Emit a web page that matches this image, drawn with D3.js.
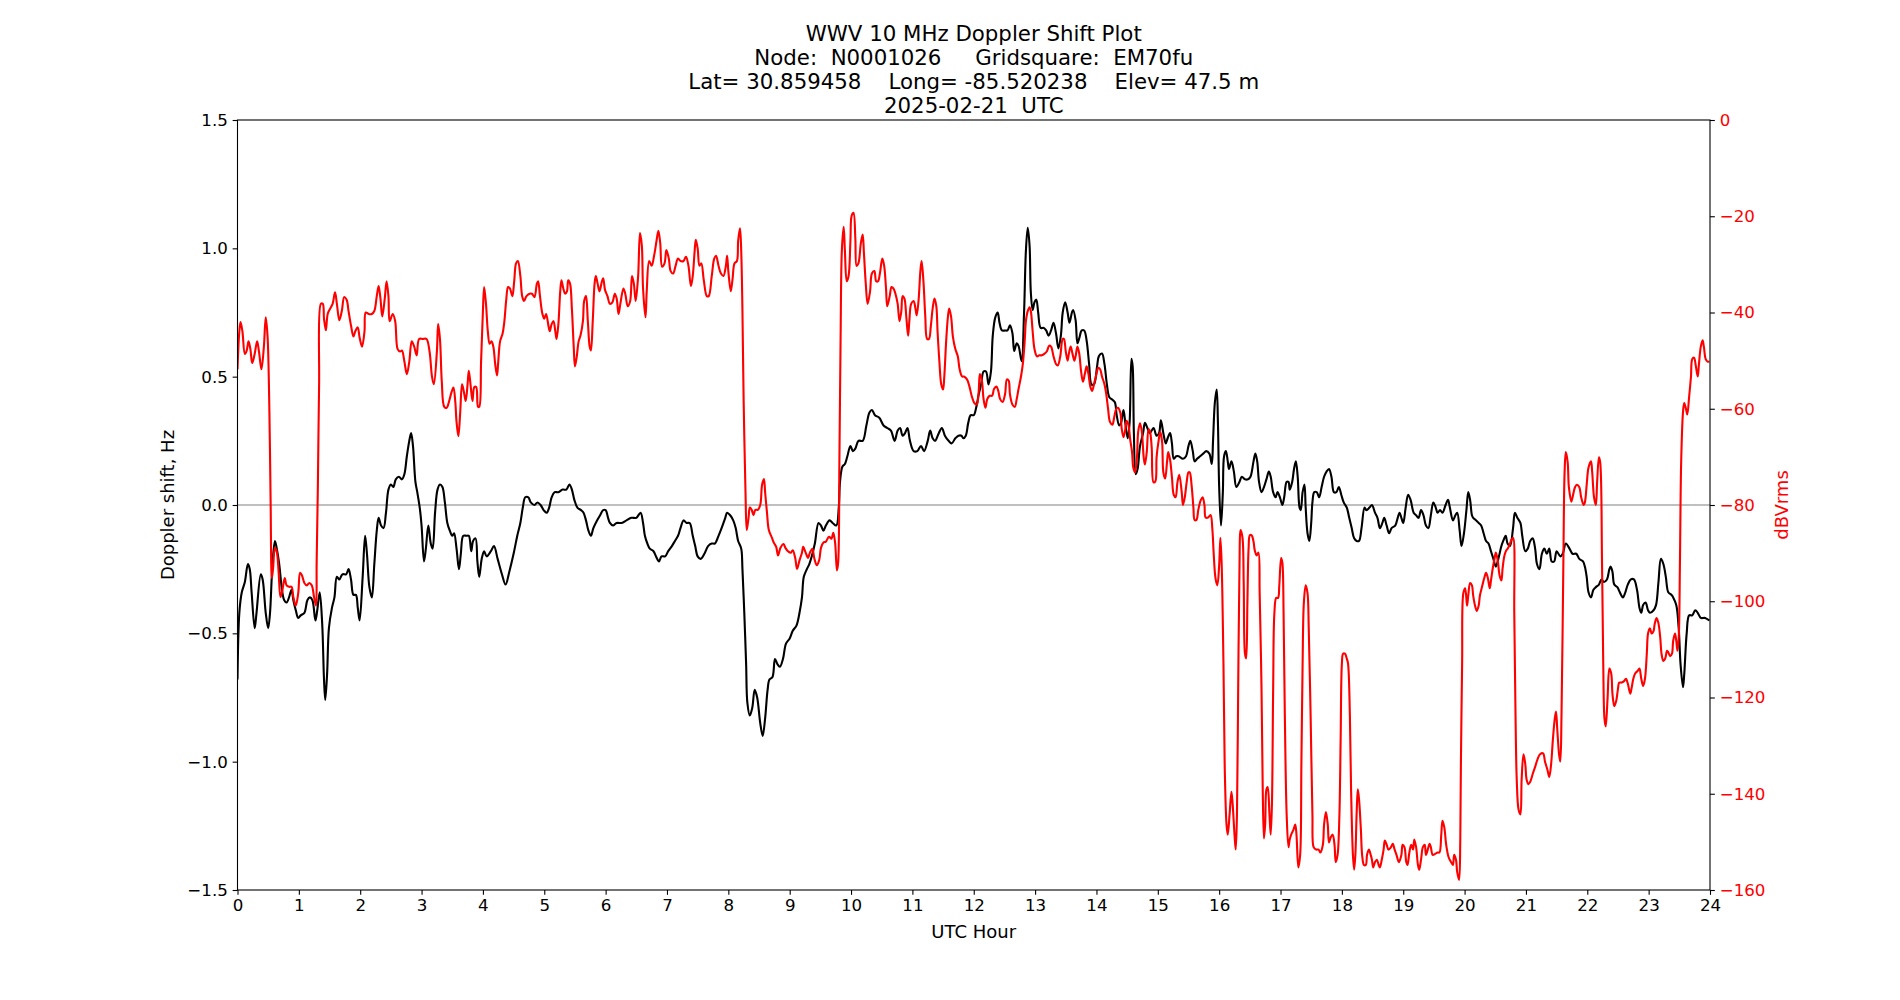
<!DOCTYPE html>
<meta charset="utf-8">
<style>
	body { margin: 0; background: #fff; }
	text { font-family: "DejaVu Sans", sans-serif; }
	.tick line { stroke: #000; stroke-width: 1.1; }
</style>
<body>
<script src="https://cdn.jsdelivr.net/npm/d3@7"></script>
<script>
// title lines
var titleLines = [
	"WWV 10 MHz Doppler Shift Plot",
	"Node:  N0001026     Gridsquare:  EM70fu",
	"Lat= 30.859458    Long= -85.520238    Elev= 47.5 m",
	"2025-02-21  UTC"
];
var hourTicks = d3.range(0, 25);
var dopplerTicks = [-1.5, -1.0, -0.5, 0.0, 0.5, 1.0, 1.5];
var powerTicks = [0, -20, -40, -60, -80, -100, -120, -140, -160];

// [UTC hour, Doppler shift Hz]
var doppler = [
	[0,-0.68],[0.03,-0.42],[0.07,-0.34],[0.12,-0.30],[0.17,-0.23],[0.2,-0.25],[0.23,-0.34],[0.28,-0.48],[0.31,-0.42],[0.38,-0.27],
	[0.41,-0.29],[0.46,-0.42],[0.5,-0.48],[0.53,-0.42],[0.57,-0.23],[0.61,-0.14],[0.64,-0.17],[0.68,-0.23],[0.72,-0.32],[0.76,-0.37],
	[0.8,-0.38],[0.84,-0.36],[0.88,-0.33],[0.91,-0.37],[0.95,-0.41],[0.99,-0.44],[1.03,-0.43],[1.09,-0.42],[1.14,-0.37],[1.18,-0.36],
	[1.22,-0.37],[1.27,-0.45],[1.30,-0.41],[1.34,-0.34],[1.38,-0.46],[1.41,-0.68],[1.43,-0.76],[1.46,-0.66],[1.49,-0.48],[1.54,-0.40],
	[1.58,-0.36],[1.62,-0.28],[1.66,-0.29],[1.71,-0.27],[1.77,-0.27],[1.81,-0.25],[1.85,-0.29],[1.89,-0.35],[1.93,-0.35],[1.96,-0.40],
	[1.99,-0.45],[2.04,-0.28],[2.08,-0.12],[2.11,-0.19],[2.15,-0.32],[2.19,-0.36],[2.23,-0.23],[2.27,-0.10],[2.30,-0.05],[2.34,-0.08],
	[2.38,-0.09],[2.42,-0.03],[2.46,0.06],[2.5,0.08],[2.54,0.07],[2.58,0.10],[2.63,0.11],[2.68,0.10],[2.72,0.12],[2.76,0.19],
	[2.80,0.25],[2.83,0.28],[2.86,0.23],[2.90,0.09],[2.93,0.05],[2.97,-0.01],[3.0,-0.08],[3.04,-0.22],[3.07,-0.17],[3.11,-0.08],
	[3.15,-0.15],[3.18,-0.17],[3.22,-0.03],[3.26,0.06],[3.30,0.08],[3.34,0.07],[3.38,0.01],[3.42,-0.07],[3.46,-0.10],[3.5,-0.12],
	[3.53,-0.11],[3.57,-0.17],[3.61,-0.25],[3.64,-0.19],[3.68,-0.12],[3.73,-0.12],[3.77,-0.12],[3.81,-0.18],[3.84,-0.14],[3.88,-0.13],
	[3.91,-0.22],[3.94,-0.28],[3.98,-0.21],[4.02,-0.18],[4.06,-0.20],[4.13,-0.18],[4.18,-0.16],[4.24,-0.21],[4.31,-0.27],[4.37,-0.31],
	[4.43,-0.26],[4.50,-0.19],[4.56,-0.12],[4.61,-0.07],[4.65,-0.01],[4.69,0.03],[4.74,0.03],[4.78,0.01],[4.84,0.0],[4.89,0.01],
	[4.94,0.0],[4.99,-0.02],[5.04,-0.03],[5.08,-0.01],[5.12,0.03],[5.17,0.05],[5.23,0.05],[5.30,0.06],[5.36,0.06],[5.41,0.08],
	[5.45,0.06],[5.49,0.02],[5.54,-0.01],[5.60,-0.02],[5.64,-0.03],[5.68,-0.06],[5.72,-0.10],[5.76,-0.12],[5.80,-0.09],[5.86,-0.06],
	[5.91,-0.04],[5.96,-0.02],[6.0,-0.02],[6.04,-0.05],[6.07,-0.07],[6.12,-0.08],[6.18,-0.07],[6.26,-0.07],[6.34,-0.06],[6.42,-0.05],
	[6.50,-0.05],[6.57,-0.03],[6.61,-0.07],[6.64,-0.12],[6.68,-0.15],[6.72,-0.17],[6.78,-0.18],[6.82,-0.20],[6.87,-0.22],[6.91,-0.20],
	[6.97,-0.20],[7.02,-0.18],[7.08,-0.16],[7.13,-0.14],[7.18,-0.12],[7.22,-0.09],[7.27,-0.06],[7.32,-0.07],[7.37,-0.07],[7.42,-0.12],
	[7.46,-0.16],[7.50,-0.20],[7.55,-0.21],[7.61,-0.19],[7.67,-0.16],[7.73,-0.15],[7.78,-0.15],[7.84,-0.12],[7.89,-0.09],[7.95,-0.05],
	[7.98,-0.03],[8.03,-0.04],[8.08,-0.06],[8.12,-0.09],[8.16,-0.14],[8.21,-0.17],[8.23,-0.25],[8.26,-0.42],[8.29,-0.62],[8.31,-0.77],
	[8.35,-0.82],[8.39,-0.79],[8.43,-0.72],[8.47,-0.75],[8.52,-0.85],[8.56,-0.90],[8.60,-0.83],[8.64,-0.72],[8.67,-0.68],[8.72,-0.67],
	[8.76,-0.60],[8.80,-0.62],[8.84,-0.63],[8.89,-0.60],[8.94,-0.54],[9.0,-0.52],[9.05,-0.49],[9.11,-0.47],[9.16,-0.42],[9.2,-0.36],
	[9.23,-0.28],[9.28,-0.25],[9.32,-0.23],[9.36,-0.20],[9.41,-0.15],[9.47,-0.07],[9.51,-0.08],[9.55,-0.10],[9.59,-0.08],[9.65,-0.06],
	[9.70,-0.07],[9.76,-0.08],[9.80,-0.01],[9.82,0.09],[9.86,0.15],[9.90,0.16],[9.94,0.19],[9.99,0.23],[10.03,0.21],[10.07,0.22],
	[10.12,0.25],[10.19,0.25],[10.25,0.31],[10.30,0.36],[10.34,0.37],[10.39,0.35],[10.46,0.34],[10.53,0.31],[10.59,0.30],[10.65,0.29],
	[10.71,0.25],[10.76,0.29],[10.80,0.30],[10.84,0.27],[10.88,0.28],[10.92,0.30],[10.96,0.25],[11.02,0.21],[11.08,0.21],[11.14,0.23],
	[11.19,0.21],[11.25,0.25],[11.29,0.29],[11.33,0.26],[11.37,0.25],[11.43,0.28],[11.48,0.30],[11.53,0.27],[11.59,0.25],[11.64,0.24],
	[11.70,0.26],[11.75,0.27],[11.80,0.27],[11.83,0.26],[11.87,0.27],[11.91,0.32],[11.95,0.35],[12.0,0.35],[12.04,0.38],[12.08,0.43],
	[12.12,0.47],[12.16,0.52],[12.2,0.52],[12.24,0.47],[12.28,0.52],[12.31,0.66],[12.35,0.73],[12.39,0.75],[12.42,0.71],[12.46,0.68],
	[12.51,0.68],[12.55,0.68],[12.59,0.70],[12.63,0.67],[12.66,0.60],[12.70,0.63],[12.73,0.62],[12.78,0.56],[12.82,0.75],[12.85,0.99],
	[12.88,1.08],[12.91,1.01],[12.93,0.83],[12.96,0.76],[12.99,0.79],[13.02,0.80],[13.05,0.75],[13.09,0.69],[13.14,0.69],[13.18,0.68],
	[13.22,0.66],[13.26,0.68],[13.30,0.71],[13.34,0.67],[13.38,0.61],[13.42,0.66],[13.45,0.75],[13.49,0.79],[13.53,0.75],[13.56,0.71],
	[13.60,0.75],[13.62,0.76],[13.66,0.72],[13.69,0.63],[13.72,0.65],[13.76,0.68],[13.80,0.68],[13.84,0.64],[13.88,0.55],[13.92,0.47],
	[13.96,0.47],[14.01,0.54],[14.04,0.58],[14.09,0.59],[14.13,0.55],[14.17,0.47],[14.21,0.42],[14.26,0.41],[14.30,0.40],[14.33,0.35],
	[14.37,0.31],[14.40,0.32],[14.44,0.37],[14.47,0.32],[14.51,0.26],[14.54,0.32],[14.57,0.57],[14.59,0.54],[14.61,0.28],[14.64,0.12],
	[14.67,0.14],[14.71,0.23],[14.76,0.28],[14.79,0.32],[14.83,0.30],[14.87,0.28],[14.93,0.30],[14.98,0.27],[15.02,0.28],[15.05,0.33],
	[15.09,0.28],[15.13,0.24],[15.16,0.26],[15.20,0.28],[15.23,0.24],[15.26,0.18],[15.30,0.19],[15.34,0.19],[15.41,0.18],[15.46,0.19],
	[15.50,0.23],[15.53,0.25],[15.57,0.21],[15.60,0.17],[15.64,0.18],[15.69,0.19],[15.74,0.20],[15.79,0.21],[15.84,0.20],[15.88,0.16],
	[15.90,0.25],[15.93,0.40],[15.96,0.45],[15.98,0.32],[16.0,0.07],[16.03,-0.08],[16.06,0.05],[16.08,0.19],[16.11,0.21],[16.14,0.17],
	[16.16,0.14],[16.20,0.17],[16.24,0.13],[16.28,0.07],[16.33,0.09],[16.37,0.11],[16.42,0.10],[16.47,0.10],[16.51,0.11],[16.56,0.17],
	[16.59,0.20],[16.62,0.17],[16.65,0.09],[16.69,0.05],[16.73,0.07],[16.77,0.10],[16.81,0.13],[16.84,0.11],[16.88,0.05],[16.92,0.03],
	[16.95,0.05],[16.99,0.03],[17.03,0.0],[17.06,0.03],[17.10,0.09],[17.13,0.09],[17.15,0.06],[17.19,0.09],[17.22,0.14],[17.25,0.17],
	[17.28,0.11],[17.31,-0.01],[17.33,-0.02],[17.36,0.05],[17.39,0.08],[17.41,-0.01],[17.44,-0.11],[17.47,-0.14],[17.50,-0.07],[17.52,0.01],
	[17.55,0.05],[17.59,0.05],[17.63,0.03],[17.67,0.07],[17.71,0.11],[17.75,0.13],[17.79,0.14],[17.83,0.11],[17.87,0.05],[17.91,0.05],
	[17.95,0.07],[17.99,0.04],[18.03,0.01],[18.08,-0.01],[18.12,-0.05],[18.16,-0.09],[18.20,-0.13],[18.24,-0.14],[18.28,-0.14],[18.32,-0.09],
	[18.37,-0.01],[18.40,-0.02],[18.45,-0.01],[18.49,0.0],[18.54,-0.03],[18.58,-0.05],[18.62,-0.09],[18.66,-0.07],[18.69,-0.05],[18.73,-0.08],
	[18.77,-0.11],[18.81,-0.09],[18.87,-0.08],[18.91,-0.05],[18.94,-0.03],[18.97,-0.05],[19.0,-0.07],[19.04,-0.01],[19.08,0.04],[19.12,0.02],
	[19.17,-0.03],[19.21,-0.04],[19.25,-0.05],[19.29,-0.02],[19.33,-0.04],[19.37,-0.08],[19.41,-0.09],[19.45,-0.04],[19.49,0.01],[19.53,-0.01],
	[19.56,-0.03],[19.60,-0.02],[19.64,-0.03],[19.69,0.0],[19.73,0.02],[19.76,-0.01],[19.81,-0.06],[19.85,-0.04],[19.88,-0.03],[19.92,-0.10],
	[19.95,-0.16],[19.99,-0.11],[20.03,-0.02],[20.06,0.05],[20.09,0.02],[20.12,-0.04],[20.14,-0.05],[20.19,-0.06],[20.23,-0.07],[20.27,-0.08],
	[20.31,-0.11],[20.35,-0.14],[20.39,-0.15],[20.43,-0.18],[20.47,-0.21],[20.51,-0.24],[20.55,-0.21],[20.60,-0.16],[20.63,-0.14],[20.67,-0.12],
	[20.70,-0.15],[20.74,-0.16],[20.79,-0.09],[20.82,-0.03],[20.86,-0.05],[20.91,-0.07],[20.94,-0.12],[20.99,-0.18],[21.03,-0.17],[21.07,-0.14],
	[21.11,-0.13],[21.15,-0.17],[21.18,-0.23],[21.22,-0.25],[21.26,-0.19],[21.30,-0.17],[21.34,-0.19],[21.38,-0.17],[21.42,-0.22],[21.46,-0.22],
	[21.50,-0.18],[21.56,-0.20],[21.60,-0.19],[21.65,-0.15],[21.71,-0.17],[21.76,-0.19],[21.82,-0.19],[21.87,-0.21],[21.93,-0.22],[21.96,-0.24],
	[21.99,-0.28],[22.02,-0.34],[22.06,-0.36],[22.10,-0.33],[22.14,-0.32],[22.19,-0.31],[22.23,-0.29],[22.27,-0.30],[22.32,-0.29],[22.36,-0.25],
	[22.38,-0.24],[22.41,-0.26],[22.44,-0.31],[22.49,-0.32],[22.53,-0.34],[22.58,-0.36],[22.62,-0.34],[22.66,-0.31],[22.71,-0.29],[22.76,-0.29],
	[22.81,-0.33],[22.85,-0.40],[22.88,-0.42],[22.91,-0.39],[22.95,-0.38],[22.99,-0.41],[23.02,-0.42],[23.08,-0.41],[23.12,-0.39],[23.16,-0.30],
	[23.20,-0.21],[23.24,-0.23],[23.28,-0.28],[23.32,-0.34],[23.37,-0.35],[23.40,-0.36],[23.45,-0.39],[23.49,-0.48],[23.52,-0.62],[23.56,-0.71],
	[23.58,-0.66],[23.62,-0.50],[23.66,-0.43],[23.71,-0.43],[23.76,-0.41],[23.80,-0.42],[23.85,-0.44],[23.92,-0.44],[23.99,-0.45]
];

// [UTC hour, signal level dBVrms]
var power = [
	[0,-51.8],[0.03,-43.9],[0.05,-42.0],[0.08,-43.9],[0.12,-48.6],[0.15,-47.9],[0.18,-46.0],[0.21,-47.6],[0.24,-50.5],[0.28,-48.6],
	[0.32,-46.0],[0.35,-48.1],[0.39,-51.8],[0.43,-47.1],[0.46,-41.0],[0.49,-45.0],[0.52,-60.7],[0.54,-79.5],[0.56,-95.2],[0.58,-93.1],
	[0.61,-88.9],[0.64,-89.7],[0.67,-93.9],[0.70,-99.1],[0.73,-97.8],[0.77,-95.2],[0.80,-96.7],[0.84,-97.0],[0.88,-97.0],[0.91,-99.1],
	[0.95,-100.9],[0.99,-98.3],[1.02,-94.1],[1.05,-94.6],[1.09,-96.2],[1.13,-96.7],[1.17,-96.2],[1.21,-96.7],[1.25,-99.3],[1.28,-100.9],
	[1.29,-92],[1.31,-76],[1.33,-55],[1.36,-38.2],[1.39,-38.2],[1.41,-41.3],[1.44,-43.7],[1.47,-40.3],[1.51,-39.2],[1.55,-38.2],
	[1.59,-35.8],[1.62,-38.2],[1.66,-41.6],[1.70,-39.7],[1.74,-36.8],[1.78,-37.4],[1.81,-39.7],[1.85,-42.7],[1.89,-45.0],[1.92,-43.9],
	[1.96,-43.1],[1.99,-45.2],[2.03,-47.1],[2.07,-43.9],[2.09,-40.0],[2.14,-40.3],[2.19,-40.3],[2.23,-39.7],[2.27,-36.6],[2.30,-34.5],
	[2.33,-37.1],[2.36,-40.8],[2.40,-37.1],[2.43,-33.5],[2.46,-36.6],[2.48,-41.8],[2.53,-40.3],[2.57,-41.8],[2.61,-47.6],[2.65,-48.1],
	[2.68,-47.9],[2.72,-50.2],[2.76,-52.8],[2.80,-50.2],[2.84,-46.0],[2.88,-47.1],[2.92,-48.9],[2.96,-45.5],[3.02,-45.5],[3.08,-45.5],
	[3.13,-48.1],[3.17,-53.3],[3.20,-54.9],[3.25,-48.1],[3.27,-42.4],[3.30,-45.5],[3.33,-54.4],[3.37,-59.6],[3.41,-59.8],[3.45,-58.4],
	[3.49,-56.5],[3.52,-55.6],[3.55,-58.6],[3.57,-62.7],[3.60,-65.7],[3.63,-60.7],[3.66,-54.9],[3.69,-56.5],[3.72,-58.4],[3.75,-54.9],
	[3.77,-52.1],[3.80,-55.2],[3.83,-58.4],[3.86,-55.5],[3.89,-55.5],[3.92,-59.6],[3.94,-59.6],[3.97,-50.2],[4.0,-39.7],[4.02,-34.7],
	[4.05,-38.2],[4.08,-43.9],[4.11,-46.5],[4.14,-46.0],[4.17,-47.1],[4.20,-50.7],[4.23,-53.1],[4.25,-50.2],[4.28,-46.0],[4.32,-44.4],
	[4.35,-41.8],[4.38,-37.4],[4.41,-34.7],[4.44,-35.0],[4.48,-36.6],[4.51,-33.5],[4.54,-29.8],[4.57,-29.3],[4.61,-32.4],[4.64,-36.6],
	[4.67,-37.6],[4.71,-36.6],[4.76,-36.1],[4.80,-36.1],[4.84,-36.8],[4.88,-34.0],[4.90,-33.5],[4.93,-36.6],[4.97,-40.3],[5.0,-41.3],
	[5.03,-40.3],[5.07,-42.9],[5.09,-43.9],[5.12,-42.4],[5.15,-41.8],[5.18,-43.9],[5.20,-45.5],[5.23,-42.4],[5.26,-35.6],[5.28,-33.3],
	[5.31,-35.0],[5.34,-36.1],[5.37,-35.6],[5.39,-33.3],[5.42,-34.0],[5.45,-39.2],[5.48,-47.1],[5.50,-51.2],[5.53,-49.1],[5.56,-46.0],
	[5.59,-44.8],[5.63,-41.8],[5.65,-37.6],[5.68,-36.6],[5.71,-41.8],[5.74,-47.1],[5.76,-47.9],[5.79,-41.8],[5.82,-34.0],[5.84,-32.4],
	[5.87,-34.0],[5.90,-35.6],[5.94,-33.5],[5.96,-32.9],[5.99,-35.3],[6.03,-36.6],[6.07,-38.2],[6.11,-37.9],[6.15,-36.1],[6.18,-37.1],
	[6.21,-40.3],[6.24,-38.2],[6.29,-35.0],[6.32,-36.1],[6.36,-38.7],[6.40,-37.6],[6.43,-32.4],[6.46,-34.0],[6.49,-37.6],[6.53,-32.4],
	[6.56,-23.5],[6.59,-26.1],[6.61,-35.0],[6.65,-41.0],[6.67,-35.6],[6.71,-29.3],[6.75,-30.3],[6.79,-28.2],[6.83,-25.1],[6.86,-23.0],
	[6.89,-25.6],[6.92,-30.5],[6.96,-29.8],[6.99,-27.0],[7.03,-28.8],[7.06,-31.4],[7.10,-31.9],[7.14,-30.3],[7.18,-28.8],[7.22,-29.3],
	[7.27,-29.3],[7.31,-28.4],[7.35,-30.3],[7.39,-34.5],[7.42,-32.4],[7.45,-27.4],[7.47,-24.9],[7.50,-26.7],[7.53,-30.3],[7.56,-29.8],
	[7.60,-33.3],[7.65,-36.6],[7.68,-36.6],[7.73,-32.4],[7.77,-28.8],[7.80,-28.2],[7.84,-30.3],[7.88,-31.9],[7.92,-32.4],[7.96,-30.3],
	[7.98,-28.2],[8.00,-31.4],[8.04,-35.6],[8.07,-32.9],[8.10,-29.8],[8.14,-29.3],[8.16,-25.1],[8.19,-22.5],[8.21,-27.2],[8.23,-39.7],
	[8.25,-58.6],[8.28,-77.4],[8.30,-85.2],[8.33,-82.6],[8.35,-80.5],[8.38,-81.0],[8.41,-82.1],[8.44,-81.0],[8.48,-81.0],[8.52,-80.0],
	[8.55,-75.8],[8.58,-74.6],[8.60,-77.4],[8.63,-81.6],[8.66,-85.2],[8.71,-86.8],[8.74,-87.8],[8.78,-88.7],[8.81,-90.5],[8.85,-88.9],
	[8.90,-88.1],[8.93,-88.9],[8.98,-89.7],[9.02,-89.9],[9.05,-89.4],[9.09,-91.0],[9.12,-93.3],[9.16,-91.5],[9.20,-89.9],[9.22,-88.7],
	[9.26,-89.9],[9.30,-91.0],[9.33,-89.9],[9.37,-89.1],[9.40,-91.0],[9.44,-92.5],[9.48,-91.5],[9.51,-88.9],[9.55,-87.8],[9.59,-87.6],
	[9.64,-86.6],[9.68,-87.0],[9.71,-85.8],[9.74,-87.8],[9.77,-93.6],[9.79,-92.0],[9.81,-71.1],[9.83,-45.0],[9.85,-27.2],[9.88,-22.2],
	[9.90,-27.2],[9.93,-33.5],[9.96,-32.4],[9.99,-25.1],[10.01,-19.9],[10.04,-19.3],[10.07,-24.6],[10.09,-30.3],[10.12,-29.8],[10.16,-25.6],
	[10.19,-23.8],[10.21,-27.7],[10.24,-34.0],[10.27,-38.2],[10.31,-35.6],[10.34,-31.9],[10.38,-31.4],[10.41,-33.5],[10.44,-33.5],[10.47,-31.9],
	[10.51,-28.8],[10.54,-30.3],[10.57,-35.0],[10.59,-38.7],[10.63,-36.6],[10.66,-34.7],[10.69,-35.0],[10.73,-36.4],[10.76,-38.2],[10.79,-41.8],
	[10.82,-39.7],[10.84,-36.6],[10.87,-37.1],[10.90,-40.8],[10.93,-44.8],[10.95,-41.8],[10.98,-38.2],[11.02,-37.6],[11.05,-39.2],[11.07,-40.6],
	[11.10,-37.6],[11.13,-31.4],[11.15,-29.3],[11.18,-33.5],[11.21,-40.8],[11.24,-45.5],[11.27,-45.5],[11.30,-42.9],[11.33,-39.2],[11.36,-37.1],
	[11.39,-38.7],[11.41,-43.9],[11.44,-50.2],[11.47,-54.9],[11.50,-56.0],[11.52,-53.3],[11.55,-46.0],[11.58,-40.8],[11.60,-39.2],[11.63,-40.8],
	[11.66,-45.0],[11.70,-47.6],[11.74,-49.1],[11.77,-51.8],[11.81,-53.3],[11.84,-53.3],[11.89,-53.9],[11.93,-55.4],[11.97,-57.5],[12.01,-58.8],
	[12.05,-59.1],[12.08,-56.5],[12.10,-52.8],[12.13,-53.9],[12.16,-58.0],[12.19,-59.8],[12.22,-58.0],[12.26,-57.3],[12.30,-57.3],[12.33,-55.9],
	[12.37,-55.4],[12.40,-56.3],[12.43,-58.0],[12.47,-58.6],[12.51,-57.0],[12.54,-53.9],[12.57,-54.2],[12.59,-57.0],[12.63,-59.1],[12.67,-59.6],
	[12.70,-58.0],[12.73,-55.9],[12.77,-53.3],[12.80,-50.7],[12.83,-46.0],[12.85,-41.8],[12.88,-39.7],[12.91,-38.9],[12.93,-39.7],[12.96,-43.9],
	[12.99,-47.6],[13.03,-49.1],[13.07,-48.9],[13.11,-48.9],[13.15,-48.6],[13.19,-48.1],[13.23,-46.9],[13.26,-47.1],[13.30,-49.1],[13.34,-50.7],
	[13.37,-51.0],[13.41,-49.1],[13.45,-45.5],[13.47,-45.5],[13.50,-48.1],[13.53,-50.0],[13.55,-48.6],[13.58,-47.1],[13.61,-48.6],[13.64,-50.0],
	[13.66,-49.1],[13.69,-47.1],[13.72,-48.6],[13.75,-52.3],[13.78,-54.4],[13.81,-52.8],[13.84,-51.2],[13.87,-52.8],[13.90,-55.4],[13.93,-56.3],
	[13.96,-54.9],[14.0,-52.8],[14.03,-51.5],[14.06,-51.8],[14.09,-53.3],[14.13,-54.9],[14.16,-57.0],[14.19,-60.1],[14.22,-62.7],[14.26,-63.3],
	[14.29,-61.7],[14.32,-60.1],[14.35,-59.8],[14.39,-60.9],[14.41,-64.0],[14.44,-65.9],[14.47,-64.3],[14.49,-62.5],[14.52,-63.3],[14.55,-66.4],
	[14.58,-69.0],[14.60,-72.2],[14.63,-73.2],[14.66,-70.1],[14.68,-64.8],[14.71,-63.0],[14.74,-64.8],[14.77,-70.1],[14.79,-71.6],[14.82,-69.0],
	[14.85,-64.3],[14.87,-64.6],[14.90,-68.0],[14.93,-75.3],[14.96,-75.1],[14.98,-70.1],[15.01,-66.9],[15.04,-64.8],[15.07,-66.9],[15.09,-73.2],
	[15.12,-74.5],[15.15,-71.1],[15.17,-69.0],[15.20,-70.6],[15.23,-74.2],[15.26,-77.9],[15.29,-78.4],[15.32,-75.3],[15.35,-73.7],[15.39,-77.4],
	[15.41,-80.0],[15.44,-78.4],[15.47,-75.3],[15.50,-73.2],[15.52,-73.2],[15.55,-75.8],[15.58,-80.5],[15.60,-83.1],[15.63,-83.1],[15.66,-81.0],
	[15.70,-79.0],[15.73,-78.4],[15.76,-80.0],[15.78,-82.6],[15.82,-82.6],[15.86,-82.1],[15.89,-85.2],[15.91,-89.9],[15.94,-95.2],[15.97,-96.7],
	[16.0,-92.5],[16.02,-86.8],[16.04,-92.0],[16.07,-113],[16.09,-134],[16.12,-146.4],[16.14,-148.5],[16.17,-144.3],[16.20,-139.6],[16.22,-142.2],
	[16.25,-148.5],[16.27,-151.6],[16.29,-144.3],[16.31,-118],[16.33,-94.1],[16.35,-85.2],[16.38,-86.8],[16.40,-96.2],[16.42,-110.8],[16.44,-111.9],
	[16.46,-100.4],[16.48,-88.9],[16.50,-86.3],[16.53,-86.3],[16.56,-87.6],[16.58,-89.4],[16.61,-90.5],[16.64,-89.9],[16.66,-98.3],[16.69,-118],
	[16.71,-139.1],[16.73,-149.3],[16.75,-146.4],[16.77,-139.1],[16.79,-138.6],[16.82,-144.3],[16.84,-148.5],[16.86,-142.2],[16.88,-118.2],[16.90,-102.5],
	[16.93,-99.3],[16.96,-99.3],[16.98,-96.7],[17.01,-91.0],[17.03,-92.0],[17.05,-102.5],[17.07,-123.4],[17.10,-144.3],[17.13,-151.1],[17.15,-149.5],
	[17.18,-148.3],[17.21,-147.5],[17.24,-146.4],[17.26,-148.5],[17.29,-155.3],[17.32,-152.7],[17.34,-133.9],[17.36,-113],[17.38,-100.4],[17.41,-96.7],
	[17.44,-98.3],[17.46,-105.6],[17.49,-123.4],[17.52,-144.3],[17.54,-151.1],[17.58,-151.6],[17.62,-151.6],[17.65,-152.2],[17.69,-150.6],[17.71,-146.4],
	[17.74,-143.8],[17.77,-146.4],[17.79,-150.1],[17.82,-149.0],[17.85,-148.5],[17.88,-150.6],[17.90,-154.2],[17.93,-152.7],[17.96,-144.3],[17.98,-128.6],
	[18.0,-113],[18.02,-110.9],[18.05,-110.9],[18.08,-111.9],[18.10,-112.9],[18.13,-123.4],[18.15,-139.1],[18.18,-152.7],[18.20,-155.8],[18.22,-152.7],
	[18.24,-144.3],[18.26,-139.1],[18.28,-141.2],[18.31,-147.5],[18.33,-152.7],[18.36,-154.8],[18.39,-154.8],[18.41,-152.7],[18.44,-151.6],[18.47,-152.7],
	[18.49,-153.7],[18.51,-155.3],[18.54,-154.2],[18.57,-153.7],[18.60,-154.8],[18.62,-155.3],[18.65,-153.7],[18.68,-151.6],[18.70,-149.7],[18.73,-150.6],
	[18.76,-151.6],[18.80,-151.1],[18.83,-150.4],[18.86,-151.6],[18.89,-152.7],[18.93,-154.2],[18.97,-152.7],[18.99,-150.6],[19.02,-151.1],[19.05,-154.2],
	[19.07,-154.8],[19.10,-152.2],[19.13,-150.6],[19.16,-151.6],[19.18,-149.5],[19.21,-151.1],[19.24,-154.8],[19.26,-155.8],[19.29,-153.7],[19.32,-151.1],
	[19.35,-150.6],[19.37,-152.7],[19.40,-151.6],[19.43,-150.4],[19.45,-151.1],[19.48,-152.7],[19.52,-152.5],[19.56,-152.2],[19.59,-152.2],[19.62,-148.5],
	[19.64,-145.6],[19.67,-147.0],[19.70,-150.6],[19.74,-153.2],[19.78,-154.2],[19.81,-154.8],[19.83,-152.7],[19.86,-153.7],[19.88,-156.3],[19.91,-157.9],
	[19.93,-149.5],[19.94,-133.9],[19.96,-112.9],[19.98,-98.3],[20.01,-97.3],[20.04,-100.9],[20.06,-98.8],[20.09,-96.2],[20.12,-96.7],[20.14,-98.8],
	[20.17,-100.9],[20.20,-102.0],[20.23,-100.9],[20.25,-98.8],[20.29,-96.7],[20.32,-95.2],[20.35,-94.1],[20.38,-95.2],[20.41,-97.3],[20.43,-95.7],
	[20.46,-93.1],[20.49,-91.0],[20.51,-89.9],[20.54,-91.5],[20.57,-94.6],[20.60,-95.7],[20.62,-93.1],[20.65,-90.5],[20.68,-89.4],[20.70,-89.1],
	[20.73,-88.4],[20.76,-87.3],[20.79,-86.8],[20.81,-102.5],[20.83,-123.4],[20.85,-137],[20.88,-143.3],[20.91,-144.3],[20.93,-137],[20.96,-131.8],
	[20.99,-133.9],[21.01,-137],[21.04,-138],[21.07,-137.5],[21.11,-135.9],[21.15,-134.4],[21.19,-132.8],[21.23,-131.8],[21.28,-131.6],[21.31,-133.3],
	[21.35,-135.0],[21.38,-136.5],[21.41,-133.9],[21.44,-128.6],[21.47,-124.4],[21.49,-122.9],[21.51,-126.5],[21.54,-131.8],[21.56,-133.3],[21.58,-123.4],
	[21.61,-92.0],[21.63,-73.2],[21.65,-69.0],[21.68,-71.1],[21.70,-76.3],[21.74,-79.3],[21.76,-78.4],[21.80,-76.3],[21.83,-75.8],[21.87,-76.3],
	[21.90,-78.4],[21.94,-80.0],[21.96,-79.5],[21.99,-75.8],[22.02,-72.2],[22.06,-70.9],[22.08,-73.2],[22.11,-78.4],[22.14,-80.0],[22.16,-75.3],
	[22.19,-70.1],[22.21,-71.1],[22.24,-92.0],[22.26,-113],[22.28,-124.4],[22.30,-126.0],[22.33,-120.3],[22.36,-114.0],[22.39,-115.0],[22.41,-119.2],
	[22.44,-121.8],[22.47,-120.8],[22.50,-118.2],[22.52,-116.9],[22.56,-116.9],[22.60,-116.6],[22.63,-116.1],[22.66,-117.1],[22.70,-119.2],[22.72,-118.2],
	[22.75,-116.1],[22.78,-115.0],[22.82,-114.5],[22.85,-114.0],[22.88,-116.1],[22.91,-117.6],[22.94,-116.1],[22.97,-110.9],[22.99,-106.7],[23.02,-105.6],
	[23.05,-106.7],[23.08,-106.2],[23.10,-104.6],[23.13,-103.5],[23.16,-104.6],[23.19,-107.7],[23.21,-110.9],[23.24,-112.4],[23.27,-111.9],[23.30,-110.3],
	[23.32,-110.6],[23.35,-111.4],[23.38,-110.9],[23.40,-108.2],[23.43,-106.7],[23.45,-108.2],[23.47,-110.3],[23.49,-107.7],[23.51,-92.0],[23.53,-71.1],
	[23.56,-60.7],[23.58,-58.8],[23.61,-60.1],[23.63,-61.2],[23.66,-57.5],[23.69,-53.3],[23.71,-49.7],[23.74,-49.4],[23.77,-51.2],[23.80,-53.3],
	[23.82,-50.7],[23.85,-47.1],[23.88,-45.8],[23.90,-47.1],[23.93,-49.7],[23.96,-50.2],[23.99,-50.2]
];

(function(){
	var W = 1900, H = 1000,
		m = {left: 237.5, right: 1710, top: 120, bottom: 890},
		fs = 16.67, lfs = 18, tick = 4.86;

	var svg = d3.select("body").append("svg")
		.attr("width", W).attr("height", H)
		.style("display", "block");
	svg.append("rect").attr("width", W).attr("height", H).attr("fill", "#fff");

	var x = d3.scaleLinear().domain([0, 24]).range([m.left, m.right]),
		yHz = d3.scaleLinear().domain([-1.5, 1.5]).range([m.bottom, m.top]),
		yDb = d3.scaleLinear().domain([-160, 0]).range([m.bottom, m.top]);

	svg.append("clipPath").attr("id", "plot")
		.append("rect")
		.attr("x", m.left).attr("y", m.top)
		.attr("width", m.right - m.left).attr("height", m.bottom - m.top);

	// zero reference line
	svg.append("line")
		.attr("x1", m.left).attr("x2", m.right)
		.attr("y1", yHz(0)).attr("y2", yHz(0))
		.attr("stroke", "#808080").attr("stroke-width", 1.1);

	var g = svg.append("g").attr("clip-path", "url(#plot)");

	var lineHz = d3.line()
		.x(function(d){ return x(d[0]); })
		.y(function(d){ return yHz(d[1]); })
		.curve(d3.curveCatmullRom.alpha(0.5));
	var lineDb = d3.line()
		.x(function(d){ return x(d[0]); })
		.y(function(d){ return yDb(d[1]); })
		.curve(d3.curveCatmullRom.alpha(0.5));

	g.append("path").datum(doppler)
		.attr("d", lineHz)
		.attr("fill", "none").attr("stroke", "#000")
		.attr("stroke-width", 2.1).attr("stroke-linejoin", "round");

	g.append("path").datum(power)
		.attr("d", lineDb)
		.attr("fill", "none").attr("stroke", "#ff0000")
		.attr("stroke-width", 2.1).attr("stroke-linejoin", "round");

	// axes
	var ax = svg.append("g")
		.attr("transform", "translate(0," + m.bottom + ")")
		.call(d3.axisBottom(x).tickValues(hourTicks).tickSize(tick).tickSizeOuter(0).tickPadding(4.5).tickFormat(d3.format("d")));
	var al = svg.append("g")
		.attr("transform", "translate(" + m.left + ",0)")
		.call(d3.axisLeft(yHz).tickValues(dopplerTicks).tickSize(tick).tickSizeOuter(0).tickPadding(4.86).tickFormat(d3.format(".1f")));
	var ar = svg.append("g")
		.attr("transform", "translate(" + m.right + ",0)")
		.call(d3.axisRight(yDb).tickValues(powerTicks).tickSize(tick).tickSizeOuter(0).tickPadding(4.86).tickFormat(d3.format("d")));

	[ax, al, ar].forEach(function(a){
		a.select(".domain").remove();
		a.selectAll("text").style("font-size", fs + "px").style("font-family", "DejaVu Sans").attr("fill", "#000");
	});
	ar.selectAll("text").attr("fill", "#ff0000");

	// frame
	svg.append("rect")
		.attr("x", m.left).attr("y", m.top)
		.attr("width", m.right - m.left).attr("height", m.bottom - m.top)
		.attr("fill", "none").attr("stroke", "#000").attr("stroke-width", 1.1);

	// labels
	svg.append("text")
		.attr("x", (m.left + m.right) / 2).attr("y", 937.5)
		.attr("text-anchor", "middle").style("font-size", lfs + "px")
		.text("UTC Hour");
	svg.append("text")
		.attr("transform", "translate(173.5," + ((m.top + m.bottom) / 2) + ") rotate(-90)")
		.attr("text-anchor", "middle").style("font-size", lfs + "px")
		.text("Doppler shift, Hz");
	svg.append("text")
		.attr("transform", "translate(1788," + ((m.top + m.bottom) / 2) + ") rotate(-90)")
		.attr("text-anchor", "middle").attr("fill", "#ff0000").style("font-size", lfs + "px")
		.text("dBVrms");

	var t = svg.append("text")
		.attr("text-anchor", "middle")
		.style("font-size", "21.3px")
		.style("white-space", "pre")
		.attr("xml:space", "preserve");
	titleLines.forEach(function(s, i){
		t.append("tspan")
			.attr("x", (m.left + m.right) / 2)
			.attr("y", 112.5 - (titleLines.length - 1 - i) * 23.8)
			.text(s);
	});
})();
</script>
